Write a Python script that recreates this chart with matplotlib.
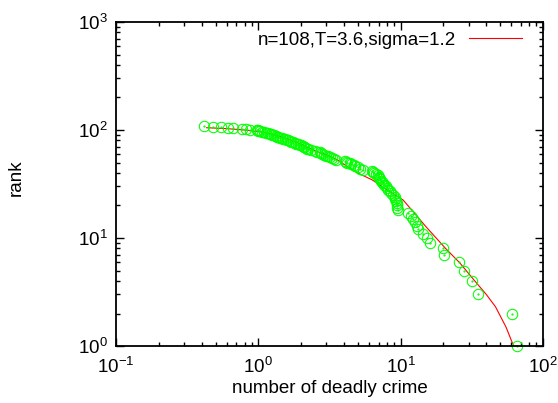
import matplotlib
matplotlib.use('Agg')
import matplotlib.pyplot as plt
from matplotlib.ticker import LogLocator

plt.rcParams['font.family'] = ['Liberation Sans', 'DejaVu Sans']
plt.rcParams['mathtext.fontset'] = 'custom'
plt.rcParams['mathtext.rm'] = 'Liberation Sans'

# rank 1..108 and number of deadly crime
rank = list(range(1, 109))
crimes = [65.4, 60.3, 35.2, 31.6, 28.1, 25.9, 20.2, 20.0, 16.1, 15.4,
          14.4, 13.3, 13.0, 12.6, 12.3, 11.8, 11.3, 9.6, 9.5, 9.4,
          9.4, 9.3, 9.2, 9.1, 8.9, 8.6, 8.4, 8.2, 8.0, 7.9,
          7.7, 7.5, 7.4, 7.3, 7.2, 7.1, 7.0, 6.9, 6.7, 6.5,
          6.4, 6.3, 5.4, 5.2, 5.0, 4.8, 4.7, 4.5, 4.4, 4.2,
          4.1, 4.05, 3.5, 3.4, 3.3, 3.2, 3.1, 3.0, 2.9, 2.8,
          2.75, 2.7, 2.6, 2.5, 2.35, 2.25, 2.2, 2.15, 2.1, 2.08,
          2.05, 2.0, 1.95, 1.9, 1.85, 1.8, 1.75, 1.7, 1.68, 1.62,
          1.58, 1.55, 1.5, 1.46, 1.42, 1.38, 1.35, 1.32, 1.28, 1.25,
          1.22, 1.2, 1.17, 1.13, 1.09, 1.06, 1.03, 1.0, 0.99, 0.973,
          0.867, 0.817, 0.772, 0.668, 0.612, 0.547, 0.48, 0.417]

# fitted curve
fit_x = [0.433, 0.6, 0.8, 1.03, 1.3, 1.6, 2.0, 2.45, 3.0, 3.5, 4.24, 5.0,
         6.34, 8.0, 10.4, 12.5, 15.0, 20.7, 26.0, 32.8, 40.0, 46.4, 55.0, 62.2]
fit_y = [105, 103, 100, 96.5, 90, 83, 74, 65, 59, 54, 45.7, 40,
         34.4, 28, 22.5, 17.0, 12.8, 8.0, 5.9, 4.08, 3.0, 2.31, 1.5, 1.0]

fig = plt.figure(figsize=(5.58, 4.03), dpi=100)
ax = fig.add_axes([0.208, 0.1414, 0.765, 0.804])

ax.plot(fit_x, fit_y, color='#ff0000', lw=0.8, label='n=108,T=3.6,sigma=1.2')
ax.plot(crimes, rank, 'o', mfc='none', mec='#00ff00', mew=0.75, ms=7.5,
        linestyle='none', clip_on=False)
ax.plot(crimes, rank, '.', color='#00ff00', ms=1.2, linestyle='none', clip_on=False)

ax.set_xscale('log')
ax.set_yscale('log')
ax.set_xlim(0.1, 100)
ax.set_ylim(1, 1000)

ax.xaxis.set_major_locator(LogLocator(base=10, numticks=10))
ax.yaxis.set_major_locator(LogLocator(base=10, numticks=10))
ax.xaxis.set_minor_locator(LogLocator(base=10, subs=range(2, 10), numticks=20))
ax.yaxis.set_minor_locator(LogLocator(base=10, subs=range(2, 10), numticks=20))

ax.tick_params(which='both', direction='in', top=True, right=True, labelsize=13.5, width=1)
ax.tick_params(which='major', length=6, pad=6)
ax.tick_params(axis='x', which='major', pad=8)
ax.tick_params(which='minor', length=3)
for s in ax.spines.values():
    s.set_linewidth(1.3)

ax.set_xlabel('number of deadly crime', fontsize=13.5, labelpad=2)
ax.set_ylabel('rank', fontsize=13.5)
ax.yaxis.set_label_coords(-0.215, 0.52)

ax.legend(loc='upper right', frameon=False, markerfirst=False, fontsize=13.5,
          handlelength=2.85, handletextpad=0.65, borderaxespad=0.1,
          bbox_to_anchor=(0.973, 1.0))

fig.savefig('out.png', dpi=100)
